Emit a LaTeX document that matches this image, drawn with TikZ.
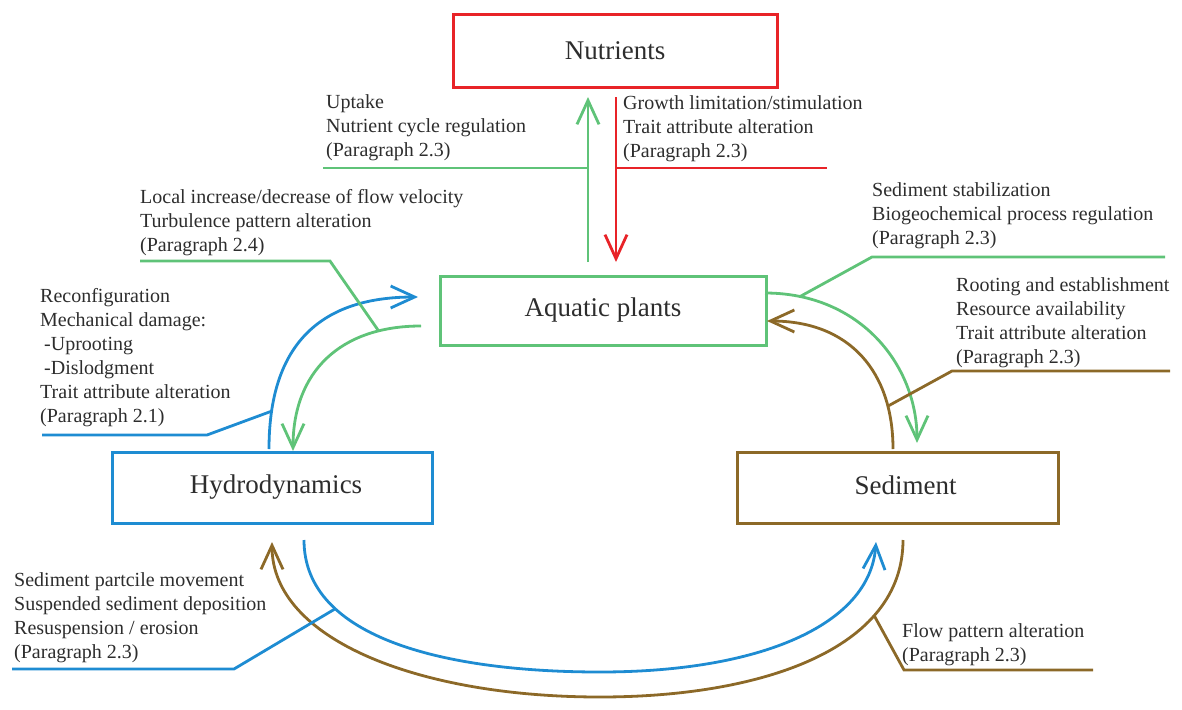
\documentclass[tikz,border=0pt]{standalone}
\usepackage{fontspec}
\setmainfont{Liberation Serif}
\usetikzlibrary{arrows.meta}
\definecolor{cred}{RGB}{232,35,40}
\definecolor{cgreen}{RGB}{95,195,120}
\definecolor{cblue}{RGB}{30,140,210}
\definecolor{cbrown}{RGB}{140,105,40}
\definecolor{ctext}{RGB}{45,45,45}
\begin{document}
\begin{tikzpicture}[x=1pt,y=-1pt,
  box/.style={draw,line width=3pt,inner sep=0pt,text=ctext,font=\fontsize{27}{30}\selectfont},
  lbl/.style={anchor=base west,align=left,inner sep=0pt,text=ctext,font=\fontsize{20}{24}\selectfont},
  link/.style={line width=2.8pt},
  arr/.style={link,-{Straight Barb[length=24pt,width=22pt]}}]
\useasboundingbox (0,0) rectangle (1182,709);
% boxes
\node[box,draw=cred,minimum width=324,minimum height=72] (nut) at (615,51) {Nutrients};
\node[box,draw=cgreen,minimum width=326,minimum height=69] (aq) at (603,310.5) {Aquatic plants};
\node[box,draw=cblue,minimum width=320,minimum height=71] (hyd) at (272,487.5) {\hspace{8pt}Hydrodynamics};
\node[box,draw=cbrown,minimum width=321,minimum height=71] (sed) at (897.5,487.5) {\raisebox{4pt}{\hspace{16pt}Sediment}};
% labels (anchored at the baseline of their last line)
\node[lbl] (t1) at (326,156) {Uptake\\Nutrient cycle regulation\\(Paragraph 2.3)};
\node[lbl] (t2) at (623,157) {Growth limitation/stimulation\\Trait attribute alteration\\(Paragraph 2.3)};
\node[lbl] (t3) at (140,251) {Local increase/decrease of flow velocity\\Turbulence pattern alteration\\(Paragraph 2.4)};
\node[lbl] (t4) at (872,244) {Sediment stabilization\\Biogeochemical process regulation\\(Paragraph 2.3)};
\node[lbl] (t5) at (956,363) {Rooting and establishment\\Resource availability\\Trait attribute alteration\\(Paragraph 2.3)};
\node[lbl] (t6) at (40,422) {Reconfiguration\\Mechanical damage:\\\hspace{4pt}-Uprooting\\\hspace{4pt}-Dislodgment\\Trait attribute alteration\\(Paragraph 2.1)};
\node[lbl] (t7) at (14,658) {Sediment partcile movement\\Suspended sediment deposition\\Resuspension / erosion\\(Paragraph 2.3)};
\node[lbl] (t8) at (902,661) {Flow pattern alteration\\(Paragraph 2.3)};
% vertical arrows aquatic plants <-> nutrients
\coordinate (gu0) at (588,262); \coordinate (gu1) at (588,97);
\coordinate (rd0) at (616,97);  \coordinate (rd1) at (616,262);
\draw[arr,cgreen] (gu0) -- (gu1);
\draw[arr,cred] (rd0) -- (rd1);
\coordinate (t1l) at (323,168); \coordinate (t2r) at (827,168);
\draw[link,cgreen] (t1l) -- (t1l -| gu0);
\draw[link,cred] (t2r -| rd0) -- (t2r);
% hydrodynamics <-> aquatic plants
\coordinate (bA) at (269,449); \coordinate (bB) at (418,297);
\draw[arr,cblue] (bA) .. controls (269,335) and (330,297) .. (bB) coordinate[pos=0.12] (bm);
\coordinate (gA) at (421,326); \coordinate (gB) at (293,451);
\draw[arr,cgreen] (gA) .. controls (340,326) and (293,372) .. (gB) coordinate[pos=0.19] (gm);
\coordinate (t6a) at (42,435); \coordinate (t6b) at (207,435);
\draw[link,cblue] (t6a) -- (t6b) -- (bm);
\coordinate (t3a) at (140,261); \coordinate (t3b) at (330,261);
\draw[link,cgreen] (t3a) -- (t3b) -- (gm);
% aquatic plants <-> sediment
\coordinate (grA) at (765,293); \coordinate (grB) at (917,443);
\draw[arr,cgreen] (grA) .. controls (860,293) and (917,365) .. (grB) coordinate[pos=0.13] (grm);
\coordinate (brA) at (893,449); \coordinate (brB) at (767,321);
\draw[arr,cbrown] (brA) .. controls (893,372) and (850,321) .. (brB) coordinate[pos=0.2] (brm);
\coordinate (t4a) at (872,257); \coordinate (t4b) at (1165,257);
\draw[link,cgreen] (grm) -- (t4a) -- (t4b);
\coordinate (t5a) at (952,371); \coordinate (t5b) at (1170,371);
\draw[link,cbrown] (brm) -- (t5a) -- (t5b);
% hydrodynamics <-> sediment
\coordinate (bbA) at (304,540); \coordinate (bbC) at (600,672); \coordinate (bbB) at (876,542);
\draw[arr,cblue] (bbA) .. controls (304,640) and (450,672) .. (bbC) coordinate[pos=0.28] (bbm)
   .. controls (760,672) and (870,625) .. (bbB);
\coordinate (brbA) at (903,540); \coordinate (brbC) at (600,697); \coordinate (brbB) at (272,542);
\draw[arr,cbrown] (brbA) .. controls (903,650) and (760,697) .. (brbC) coordinate[pos=0.27] (brbm)
   .. controls (420,697) and (272,640) .. (brbB);
\coordinate (t7a) at (12,669); \coordinate (t7b) at (234,669);
\draw[link,cblue] (t7a) -- (t7b) -- (bbm);
\coordinate (t8a) at (904,670); \coordinate (t8b) at (1093,670);
\draw[link,cbrown] (brbm) -- (t8a) -- (t8b);
\end{tikzpicture}
\end{document}
